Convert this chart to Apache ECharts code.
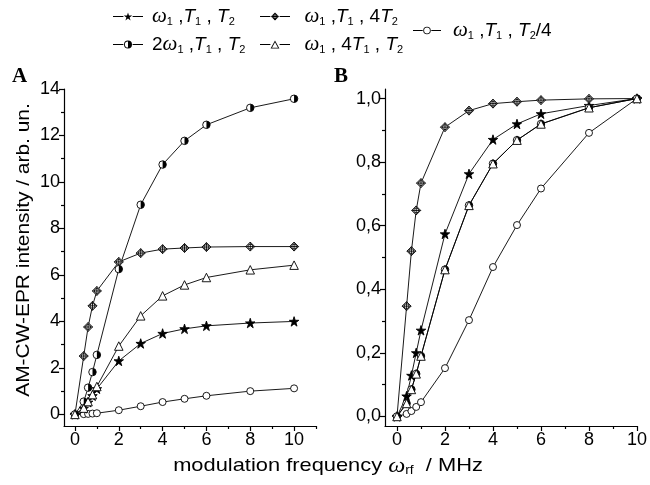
<!DOCTYPE html>
<html><head><meta charset="utf-8">
<script src="https://cdn.jsdelivr.net/npm/echarts@6/dist/echarts.min.js"></script>
<style>html,body{margin:0;padding:0;background:#fff}#c{width:650px;height:485px}</style>
</head><body><div id="c"></div>
<script>
// ---- data ----
const freq = [0, 0.4, 0.6, 0.8, 1, 2, 3, 4, 5, 6, 8, 10];
// panel A (absolute intensity)
const A_w1T1T2   = [0, 0.26, 0.52, 0.80, 1.10, 2.30, 3.05, 3.48, 3.68, 3.81, 3.93, 4.00];
const A_2w1T1T2  = [0, 0.55, 1.15, 1.82, 2.56, 6.25, 9.02, 10.75, 11.77, 12.46, 13.19, 13.58];
const A_w1T14T2  = [0, 2.51, 3.76, 4.67, 5.31, 6.56, 6.94, 7.11, 7.16, 7.20, 7.22, 7.22];
const A_w14T1T2  = [0, 0.27, 0.55, 0.85, 1.20, 2.94, 4.24, 5.10, 5.57, 5.89, 6.22, 6.42];
const A_w1T1T2q  = [0, 0.01, 0.02, 0.035, 0.05, 0.18, 0.35, 0.53, 0.67, 0.80, 1.00, 1.12];
// panel B (normalised)
const B_w1T1T2   = [0, 0.064, 0.129, 0.200, 0.271, 0.574, 0.763, 0.871, 0.920, 0.952, 0.978, 1.0];
const B_2w1T1T2  = [0, 0.041, 0.085, 0.134, 0.190, 0.462, 0.664, 0.795, 0.869, 0.920, 0.971, 1.0];
const B_w1T14T2  = [0, 0.347, 0.520, 0.648, 0.734, 0.910, 0.962, 0.984, 0.990, 0.995, 0.999, 1.0];
const B_w14T1T2  = [0, 0.041, 0.085, 0.134, 0.190, 0.462, 0.664, 0.795, 0.869, 0.920, 0.971, 1.0];
const B_w1T1T2q  = [0, 0.008, 0.017, 0.030, 0.045, 0.152, 0.303, 0.470, 0.602, 0.717, 0.892, 1.0];
// ticks
const xTicks = [0, 2, 4, 6, 8, 10];
const xMinorA = [1, 3, 5, 7, 9, 11];
const xMinorB = [1, 3, 5, 7, 9];
const yTicksA = [0, 2, 4, 6, 8, 10, 12, 14];
const yMinorA = [1, 3, 5, 7, 9, 11, 13];
const yTicksB = [0, 0.2, 0.4, 0.6, 0.8, 1.0];
const yMinorB = [0.1, 0.3, 0.5, 0.7, 0.9];

// ---- styles ----
const FONT = 'Liberation Sans';
const starPath = 'path://M0,-10 L2.25,-3.09 L9.51,-3.09 L3.63,1.18 L5.88,8.09 L0,3.82 L-5.88,8.09 L-3.63,1.18 L-9.51,-3.09 L-2.25,-3.09 Z';
const diaPath = 'path://M0,-10 L10,0 L0,10 L-10,0 Z M-5.5,0 A5.5,5.5 0 1 1 5.5,0 A5.5,5.5 0 1 1 -5.5,0 Z M0,-10 L0,10 M-10,0 L10,0';
const halfPath = 'path://M0,-10 L2,-9.8 L4,-9.17 L6,-8 L8,-6 L9.17,-4 L9.8,-2 L10,0 L9.8,2 L9.17,4 L8,6 L6,8 L4,9.17 L2,9.8 L0,10 Z';

// legend icons (single-fill black paths, box x -15..15, y -4..4)
const bars = 'M-15,-0.5 L-4.6,-0.5 L-4.6,0.5 L-15,0.5 Z M4.6,-0.5 L15,-0.5 L15,0.5 L4.6,0.5 Z ';
function starIcon() {
  const pts = [[0,-10],[2.25,-3.09],[9.51,-3.09],[3.63,1.18],[5.88,8.09],[0,3.82],[-5.88,8.09],[-3.63,1.18],[-9.51,-3.09],[-2.25,-3.09]];
  const s = 0.442;
  return 'path://' + bars + 'M' + pts.map(p => (p[0]*s).toFixed(2) + ',' + (p[1]*s + 0.42).toFixed(2)).join(' L') + ' Z';
}
const ringO = 'M0,-4 A4,4 0 1 1 0,4 A4,4 0 1 1 0,-4 Z ';
const circleIcon = 'path://' + bars + ringO + 'M0,-3.1 A3.1,3.1 0 1 0 0,3.1 A3.1,3.1 0 1 0 0,-3.1 Z';
const halfIcon = 'path://' + bars + ringO + 'M0,-3.1 A3.1,3.1 0 0 0 0,3.1 Z';
const triIcon = 'path://' + bars + 'M0,-4 L4.4,4 L-4.4,4 Z M0,-2.2 L-3.0,3.2 L3.0,3.2 Z';
const diaIcon = 'path://' + bars + 'M0,-4 L4,0 L0,4 L-4,0 Z M0,-3.1 L-3.1,0 L0,3.1 L3.1,0 Z ' +
  'M-0.4,-3.1 L0.4,-3.1 L0.4,3.1 L-0.4,3.1 Z M-3.1,-0.4 L3.1,-0.4 L3.1,0.4 L-3.1,0.4 Z ' +
  'M0,-2.2 A2.2,2.2 0 1 1 0,2.2 A2.2,2.2 0 1 1 0,-2.2 Z M0,-1.5 A1.5,1.5 0 1 0 0,1.5 A1.5,1.5 0 1 0 0,-1.5 Z';

const rich = {
  ga: {fontFamily: FONT, fontSize: 19, color: '#000', lineHeight: 22, verticalAlign: 'middle', width: 3},
  gb: {fontFamily: FONT, fontSize: 19, color: '#000', lineHeight: 22, verticalAlign: 'middle', width: 8},
  gc: {fontFamily: FONT, fontSize: 19, color: '#000', lineHeight: 22, verticalAlign: 'middle', width: 7},
  w: {fontFamily: 'Liberation Serif', fontStyle: 'italic', fontSize: 21, color: '#000', lineHeight: 22, verticalAlign: 'middle'},
  t: {fontFamily: FONT, fontStyle: 'italic', fontSize: 19, color: '#000', lineHeight: 22, verticalAlign: 'middle'},
  n: {fontFamily: FONT, fontSize: 19, color: '#000', lineHeight: 22, verticalAlign: 'middle'},
  s: {fontFamily: FONT, fontSize: 11, color: '#000', lineHeight: 11, verticalAlign: 'bottom'}
};
const legendText = {
  s1: '{ga| }{w|ω}{s|1}{n| ,}{t|T}{s|1}{n| , }{t|T}{s|2}',
  s2: '{ga| }{n|2}{w|ω}{s|1}{n| ,}{t|T}{s|1}{n| , }{t|T}{s|2}',
  s3: '{gb| }{w|ω}{s|1}{n| ,}{t|T}{s|1}{n| , 4}{t|T}{s|2}',
  s4: '{gb| }{w|ω}{s|1}{n| , 4}{t|T}{s|1}{n| , }{t|T}{s|2}',
  s5: '{gc| }{w|ω}{s|1}{n| ,}{t|T}{s|1}{n| , }{t|T}{s|2}{n|/4}'
};
function legend(name, icon, left, top, w) {
  return {
    data: [{name: name, icon: icon, itemStyle: {color: '#000', borderWidth: 0}}],
    left: left, top: top, padding: 0, itemWidth: w, itemHeight: 8, selectedMode: false,
    formatter: n => legendText[n], textStyle: {rich: rich, color: '#000', fontSize: 19}
  };
}

function mkX(gi, min, max, ticks, isMinor) {
  return {
    type: 'value', gridIndex: gi, min: min, max: max, position: 'bottom',
    axisLine: {show: !isMinor, onZero: false, lineStyle: {color: '#000', width: 1.2}},
    axisTick: {show: true, length: isMinor ? 3 : 5, customValues: ticks, lineStyle: {color: '#000', width: 1.2}},
    axisLabel: isMinor ? {show: false} : {customValues: ticks, color: '#000', fontSize: 18, fontFamily: FONT, margin: 5},
    splitLine: {show: false}
  };
}
function mkY(gi, min, max, ticks, isMinor, fmt) {
  return {
    type: 'value', gridIndex: gi, min: min, max: max, position: 'left',
    axisLine: {show: !isMinor, onZero: false, lineStyle: {color: '#000', width: 1.2}},
    axisTick: {show: true, length: isMinor ? 3 : 5, customValues: ticks, lineStyle: {color: '#000', width: 1.2}},
    axisLabel: isMinor ? {show: false} : {customValues: ticks, color: '#000', fontSize: 18, fontFamily: FONT, margin: 4, formatter: fmt},
    splitLine: {show: false}
  };
}

function pts(vals) { return freq.map((x, i) => [x, vals[i]]); }
function line(name, vals, ai, symbol, size, fill, z) {
  return {
    type: 'line', name: name, xAxisIndex: ai, yAxisIndex: ai, data: pts(vals), z: z,
    symbol: symbol, symbolSize: size, showAllSymbol: true,
    lineStyle: {color: '#000', width: 0.9},
    itemStyle: {color: fill, borderColor: '#000', borderWidth: 0.9},
    emphasis: {disabled: true}, animation: false
  };
}
function halfOverlay(name, vals, ai) {
  return {
    type: 'line', name: name, xAxisIndex: ai, yAxisIndex: ai, data: pts(vals), z: 4,
    symbol: halfPath, symbolSize: [3.7, 7.5], symbolOffset: [1.85, 0], symbolKeepAspect: false, showAllSymbol: true,
    lineStyle: {width: 0, opacity: 0},
    itemStyle: {color: '#000', borderWidth: 0}, emphasis: {disabled: true}, animation: false
  };
}
function panel(ai, d) {
  return [
    line('s5', d[4], ai, 'circle', 7, '#fff', 3),
    line('s1', d[0], ai, starPath, 9.5, '#000', 3),
    line('s3', d[2], ai, diaPath, 9, '#fff', 3),
    line('s2', d[1], ai, 'circle', 7.5, '#fff', 3),
    halfOverlay('s2', d[1], ai),
    line('s4', d[3], ai, 'triangle', 8.5, '#fff', 5)
  ];
}

const chart = echarts.init(document.getElementById('c'), null, {renderer: 'canvas'});
const fmtB = v => v.toFixed(1).replace('.', ',');
chart.setOption({
  animation: false,
  backgroundColor: '#fff',
  grid: [
    {left: 64, top: 89, width: 252, height: 337},
    {left: 385, top: 89, width: 252, height: 337}
  ],
  xAxis: [
    mkX(0, -0.5, 11, xTicks, false), mkX(0, -0.5, 11, xMinorA, true),
    mkX(1, -0.5, 10, xTicks, false), mkX(1, -0.5, 10, xMinorB, true)
  ],
  yAxis: [
    mkY(0, -0.5, 14, yTicksA, false), mkY(0, -0.5, 14, yMinorA, true),
    mkY(1, -0.03, 1.03, yTicksB, false, fmtB), mkY(1, -0.03, 1.03, yMinorB, true)
  ],
  legend: [
    legend('s1', starIcon(), 113, 6, 32),
    legend('s2', halfIcon, 113, 34, 32),
    legend('s3', diaIcon, 260, 6, 33),
    legend('s4', triIcon, 260, 34, 33),
    legend('s5', circleIcon, 413, 20, 28)
  ],
  graphic: [
    {type: 'text', left: 12, top: 66, style: {text: 'A', font: 'bold 21px "Liberation Serif"', fill: '#000'}},
    {type: 'text', left: 334, top: 66, style: {text: 'B', font: 'bold 21px "Liberation Serif"', fill: '#000'}},
    {type: 'text', x: 24, y: 250, rotation: Math.PI / 2, scaleX: 1.1,
      style: {text: 'AM-CW-EPR intensity / arb. un.', font: '19px "Liberation Sans"', fill: '#000', align: 'center', verticalAlign: 'middle'}},
    {type: 'text', x: 328, y: 466, scaleX: 1.15,
      style: {text: 'modulation frequency {w|ω}{s|rf}  / MHz', font: '19px "Liberation Sans"', fill: '#000', align: 'center', verticalAlign: 'middle',
        rich: {
          w: {fontFamily: 'Liberation Serif', fontStyle: 'italic', fontSize: 21, lineHeight: 22, verticalAlign: 'middle', fill: '#000'},
          s: {fontFamily: 'Liberation Sans', fontSize: 12, lineHeight: 12, verticalAlign: 'bottom', fill: '#000'}
        }}}
  ],
  series: [].concat(
    panel(0, [A_w1T1T2, A_2w1T1T2, A_w1T14T2, A_w14T1T2, A_w1T1T2q]),
    panel(2, [B_w1T1T2, B_2w1T1T2, B_w1T14T2, B_w14T1T2, B_w1T1T2q])
  )
});
</script></body></html>
